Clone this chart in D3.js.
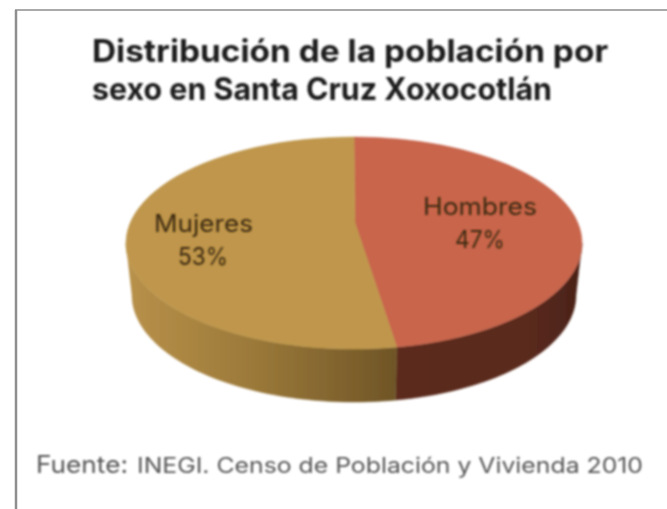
<!DOCTYPE html>
<html><head><meta charset="utf-8">
<style>html,body{margin:0;padding:0;background:#fff;overflow:hidden}svg{display:block}</style>
<script src="https://cdn.jsdelivr.net/npm/d3@7"></script></head>
<body><svg id="c" width="667" height="509"></svg>
<script>
const categories = ["Hombres", "Mujeres"];
const percentages = [47, 53];
const titleLines = ["Distribución de la población por", "sexo en Santa Cruz Xoxocotlán"];
const sourceLead = "Fuente:";
const sourceRest = "INEGI. Censo de Población y Vivienda 2010";

const svg = d3.select("#c");
const defs = svg.append("defs");
const mkBlur = (id,sd)=>defs.append("filter").attr("id",id).attr("filterUnits","userSpaceOnUse")
  .attr("x",0).attr("y",0).attr("width",667).attr("height",509)
  .append("feGaussianBlur").attr("stdDeviation",sd);
mkBlur("soft",1.0); mkBlur("softT",0.85); mkBlur("softF",0.5);

const gradM = defs.append("linearGradient").attr("id","sideM").attr("gradientUnits","userSpaceOnUse")
  .attr("x1",126).attr("x2",400).attr("y1",0).attr("y2",0);
[[0,"#b8914a"],[0.45,"#9c7a3a"],[1,"#6e5426"]].forEach(s=>gradM.append("stop").attr("offset",s[0]).attr("stop-color",s[1]));
const gradH = defs.append("linearGradient").attr("id","sideH").attr("gradientUnits","userSpaceOnUse")
  .attr("x1",400).attr("x2",582).attr("y1",0).attr("y2",0);
[[0,"#5b2b1f"],[0.7,"#5a2a1e"],[1,"#4a2218"]].forEach(s=>gradH.append("stop").attr("offset",s[0]).attr("stop-color",s[1]));

// frame
const frame = svg.append("g").attr("filter","url(#softF)");
frame.append("line").attr("x1",15).attr("x2",667).attr("y1",10).attr("y2",10).attr("stroke","#8e8e8e").attr("stroke-width",1.5);
frame.append("line").attr("x1",16).attr("x2",16).attr("y1",10).attr("y2",509).attr("stroke","#8e8e8e").attr("stroke-width",2.5);

// pie geometry
const topE = {cx:354, cy:243, rx:228, ry:106, ax:355, ay:223};
const botE = {cx:354, cy:295, rx:222, ry:107};
const pie = d3.pie().sort(null).value(d=>d.v);
const arcs = pie(categories.map((c,i)=>({c, v:percentages[i]})));
const pt = (e,a)=>[e.cx+e.rx*Math.sin(a), e.cy-e.ry*Math.cos(a)];
const samples = (e,a0,a1)=>d3.range(0,61).map(i=>pt(e,a0+(a1-a0)*i/60));
const line = d3.line();
const g = svg.append("g").attr("filter","url(#soft)");

const fills = {Hombres:"#c8654c", Mujeres:"#bf964b"};
const sides = {Hombres:"url(#sideH)", Mujeres:"url(#sideM)"};
arcs.forEach(d=>{
  const a0 = Math.max(d.startAngle, Math.PI/2), a1 = Math.min(d.endAngle, 3*Math.PI/2);
  const ring = samples(topE,a0,a1).concat(samples(botE,a1,a0));
  g.append("path").attr("d",line(ring)+"Z").attr("fill",sides[d.data.c]).attr("stroke",sides[d.data.c]).attr("stroke-width",0.5);
});
arcs.forEach(d=>{
  const ring = [[topE.ax,topE.ay]].concat(samples(topE,d.startAngle,d.endAngle));
  g.append("path").attr("d",line(ring)+"Z").attr("fill",fills[d.data.c]).attr("stroke",fills[d.data.c]).attr("stroke-width",0.5);
});

// labels
const labelPos = {Hombres:[423,114,480,215,248,50], Mujeres:[154,99,203,232,265,50]};
const lab = svg.append("g").attr("filter","url(#softT)").attr("font-family","Inter, sans-serif")
  .attr("font-size",24).attr("fill","#3d2a10");
arcs.forEach(d=>{
  const p = labelPos[d.data.c];
  lab.append("text").attr("x",p[0]).attr("y",p[3]).attr("textLength",p[1]).attr("lengthAdjust","spacingAndGlyphs").text(d.data.c);
  lab.append("text").attr("x",p[2]-p[5]/2).attr("y",p[4]).attr("textLength",p[5]).attr("lengthAdjust","spacingAndGlyphs").text(d.data.v+"%");
});

// title
const t = svg.append("g").attr("filter","url(#softT)").attr("font-family","Inter, sans-serif").attr("font-weight",700).attr("font-size",31).attr("fill","#1c1c1c");
t.append("text").attr("x",92).attr("y",62).attr("textLength",516).attr("lengthAdjust","spacingAndGlyphs").text(titleLines[0]);
t.append("text").attr("x",92).attr("y",100).attr("textLength",460).attr("lengthAdjust","spacingAndGlyphs").text(titleLines[1]);

// source
const s = svg.append("g").attr("filter","url(#softT)").attr("font-family","Inter, sans-serif").attr("fill","#555");
s.append("text").attr("x",36).attr("y",473).attr("font-size",24).attr("textLength",92).attr("lengthAdjust","spacingAndGlyphs").text(sourceLead);
s.append("text").attr("x",137).attr("y",473).attr("font-size",21).attr("textLength",506).attr("lengthAdjust","spacingAndGlyphs").text(sourceRest);
</script></body></html>
